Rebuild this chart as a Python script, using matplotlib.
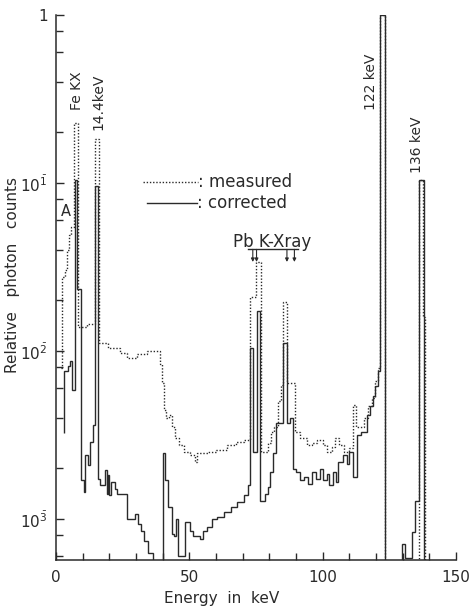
import numpy as np
import matplotlib
matplotlib.use("Agg")
import matplotlib.pyplot as plt
from matplotlib.lines import Line2D

INK = "#2a2a2a"
plt.rcParams["font.family"] = ["DejaVu Sans"]
plt.rcParams["mathtext.fontset"] = "dejavusans"

# Energy bin edges (keV) and log10 of relative photon counts per bin.
# A value of -6 marks empty bins (below the plotted range).
measured_edges = [2.0, 2.4, 3.2, 4.0, 4.8, 5.6, 6.6, 8.3, 11.6, 14.6,
                  16.3, 19.5, 24.0, 26.6, 30.4, 34.0, 39.0, 39.6, 40.4, 41.3,
                  42.5, 43.5, 44.8, 46.3, 48.0, 50.3, 52.0, 53.0, 57.0, 60.0,
                  64.0, 67.5, 70.5, 72.8, 74.9, 76.8, 79.5, 80.5, 81.8, 83.2,
                  84.2, 85.0, 86.6, 89.5, 91.5, 94.0, 96.0, 98.0, 100.0, 101.5,
                  103.5, 104.8, 106.3, 108.0, 110.0, 111.4, 112.4, 113.3, 115.5, 117.0,
                  118.5, 119.8, 120.6, 121.6, 123.4, 136.2, 137.8, 138.4, 139.0]
measured_log = [-2.10, -1.56, -1.52, -1.40, -1.31, -1.26, -0.64, -1.86, -1.84, -0.74,
                -1.95, -1.98, -2.01, -2.04, -2.02, -2.00, -2.08, -2.19, -2.35, -2.40,
                -2.38, -2.45, -2.52, -2.56, -2.60, -2.62, -2.66, -2.61, -2.60, -2.59,
                -2.56, -2.54, -2.53, -1.68, -1.47, -2.60, -2.55, -2.48, -2.45, -2.30,
                -2.20, -1.71, -2.19, -2.48, -2.52, -2.56, -2.55, -2.53, -2.56, -2.60,
                -2.57, -2.52, -2.56, -2.60, -2.58, -2.32, -2.45, -2.45, -2.40, -2.33,
                -2.28, -2.18, -2.10, 0.0, -6, -0.98, -1.80, -6]

corrected_edges = [2.9, 3.0, 4.5, 5.3, 6.0, 7.0, 8.0, 9.5, 10.5, 11.0,
                   12.0, 12.8, 13.9, 14.6, 15.6, 16.5, 18.4, 19.0, 19.4, 20.0,
                   20.5, 22.0, 23.0, 26.8, 29.6, 30.8, 32.0, 33.0, 34.5, 36.2,
                   40.0, 40.7, 42.0, 43.5, 44.3, 45.0, 45.8, 48.5, 50.3, 51.5,
                   54.0, 55.0, 56.5, 58.5, 60.5, 63.0, 65.5, 68.0, 70.5, 72.0,
                   72.8, 73.9, 75.3, 76.5, 78.3, 79.5, 80.3, 81.5, 82.6, 85.0,
                   86.6, 87.8, 88.9, 90.0, 91.5, 93.0, 94.5, 96.0, 97.5, 99.0,
                   100.0, 101.5, 102.5, 103.8, 105.0, 105.8, 107.6, 109.0, 110.0, 111.3,
                   112.8, 114.5, 116.6, 117.8, 118.9, 119.8, 120.6, 121.6, 123.4, 129.6,
                   130.8, 133.5, 134.6, 136.2, 138.1, 139.0]
corrected_log = [-2.49, -2.12, -2.09, -2.06, -2.23, -0.98, -1.63, -2.77, -2.84, -2.62,
                 -2.68, -2.54, -2.44, -1.02, -2.76, -2.80, -2.71, -2.85, -2.74, -2.86,
                 -2.78, -2.82, -2.85, -3.00, -2.97, -3.03, -3.07, -3.13, -3.20, -6,
                 -2.61, -2.77, -2.93, -3.09, -3.10, -3.00, -3.22, -3.02, -3.07, -3.10,
                 -3.12, -3.07, -3.05, -3.00, -2.99, -2.96, -2.93, -2.90, -2.86, -2.80,
                 -1.98, -2.60, -1.76, -2.89, -2.85, -2.81, -2.72, -2.61, -2.43, -1.95,
                 -2.43, -2.40, -2.70, -2.72, -2.77, -2.75, -2.79, -2.72, -2.76, -2.70,
                 -2.77, -2.73, -2.80, -2.72, -2.78, -2.66, -2.62, -2.67, -2.60, -2.75,
                 -2.50, -2.48, -2.38, -2.33, -2.27, -2.21, -2.12, 0.0, -6, -3.15,
                 -3.23, -3.08, -2.89, -0.98, -6]

# Pb K x-ray line positions (keV) marked with arrows
pb_lines = [73.8, 75.2, 86.6, 89.4]

y_ticks = [1e-3, 1e-2, 1e-1, 1.0]
y_tick_labels = [r"$10^{\bar{3}}$", r"$10^{\bar{2}}$", r"$10^{\bar{1}}$", "1"]
x_ticks = [0, 50, 100, 150]

W, H = 470, 609
fig = plt.figure(figsize=(W / 100, H / 100), dpi=100)
ax = fig.add_axes([56 / W, 1 - 560 / H, 400 / W, 545 / H])
ax.set_yscale("log")
ax.set_xlim(0, 150)
ax.set_ylim(10 ** -3.244, 1.0)

ax.stairs(10 ** np.array(measured_log), measured_edges, baseline=None,
          color=INK, lw=1.0, linestyle=(0, (1, 1.3)))
ax.stairs(10 ** np.array(corrected_log), corrected_edges, baseline=None,
          color=INK, lw=1.0)

for s in ("top", "right"):
    ax.spines[s].set_visible(False)
for s in ("left", "bottom"):
    ax.spines[s].set_color(INK)
    ax.spines[s].set_linewidth(1.1)

ax.set_yticks(y_ticks)
ax.set_yticklabels(y_tick_labels)
ax.yaxis.set_minor_locator(matplotlib.ticker.LogLocator(base=10, subs=[2, 4, 6, 8]))
ax.yaxis.set_minor_formatter(matplotlib.ticker.NullFormatter())
ax.set_xticks(x_ticks)
ax.set_xticks(np.arange(0, 151, 10), minor=True)
ax.tick_params(axis="both", which="both", direction="in", color=INK,
               labelcolor=INK, width=1.0)
ax.tick_params(axis="x", which="major", labelsize=11, pad=7)
ax.tick_params(axis="y", which="major", labelsize=11, pad=6)
ax.tick_params(axis="both", which="major", length=6)
ax.tick_params(axis="both", which="minor", length=5)

fig.text(222 / W, 1 - 599 / H, "Energy  in  keV", ha="center", va="center",
         fontsize=11, color=INK)
fig.text(13 / W, 1 - 275 / H, "Relative   photon   counts", ha="center",
         va="center", rotation=90, fontsize=11, color=INK)

# peak labels
ax.text(7.9, 10 ** -0.452, "Fe KX", rotation=90, ha="center", va="center",
        fontsize=10, color=INK)
ax.text(15.9, 10 ** -0.518, "14.4keV", rotation=90, ha="center", va="center",
        fontsize=10, color=INK)
ax.text(118.3, 10 ** -0.40, "122 keV", rotation=90, ha="center", va="center",
        fontsize=10, color=INK)
ax.text(135.2, 10 ** -0.774, "136 keV", rotation=90, ha="center", va="center",
        fontsize=10, color=INK)
ax.text(3.75, 10 ** -1.167, "A", ha="center", va="center", fontsize=10.5, color=INK)

# legend drawn as sample strokes with text
tr = ax.transAxes
def ax_xy(px, py):
    return (px - 56) / 400, (560 - py) / 545

x0, y0 = ax_xy(143, 182)
x1, _ = ax_xy(198, 182)
ax.add_line(Line2D([x0, x1], [y0, y0], transform=tr, color=INK, lw=1.0,
                   linestyle=(0, (1, 1.3))))
ax.text(x1, y0, ": measured", transform=tr, ha="left", va="center",
        fontsize=12, color=INK)
x0, y1 = ax_xy(147, 203)
x1, _ = ax_xy(197, 203)
ax.add_line(Line2D([x0, x1], [y1, y1], transform=tr, color=INK, lw=1.0))
ax.text(x1, y1, ": corrected", transform=tr, ha="left", va="center",
        fontsize=12, color=INK)

# Pb K x-ray marker
ax.text(81.0, 10 ** -1.35, "Pb K-Xray", ha="center", va="center", fontsize=12,
        color=INK)
ax.plot([72.0, 90.8], [10 ** -1.39, 10 ** -1.39], color=INK, lw=1.0)
for e in pb_lines:
    ax.annotate("", xy=(e, 10 ** -1.47), xytext=(e, 10 ** -1.395),
                arrowprops=dict(arrowstyle="-|>", lw=0.8, color=INK,
                                mutation_scale=5, shrinkA=0, shrinkB=0))

fig.savefig("out.png", dpi=100)
